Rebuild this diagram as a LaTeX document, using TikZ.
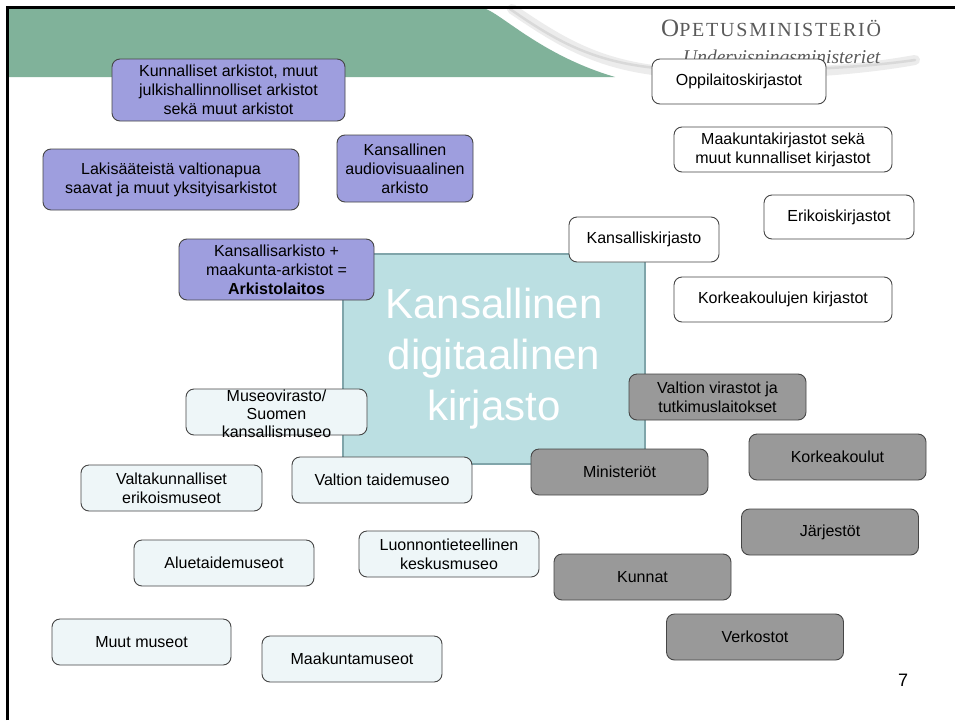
\documentclass[tikz,border=0pt]{standalone}
\usepackage{fontspec}
\setmainfont{Liberation Sans}
\newfontfamily\logofont[LetterSpace=9]{Liberation Serif}
\newfontfamily\logoital{Liberation Serif}
\definecolor{archc}{RGB}{158,158,222}
\definecolor{govc}{RGB}{153,153,153}
\definecolor{musc}{RGB}{238,246,248}
\definecolor{centc}{RGB}{187,223,226}
\definecolor{centborder}{RGB}{128,165,170}
\definecolor{headgreen}{RGB}{128,178,154}
\definecolor{logogray}{RGB}{90,90,90}
\definecolor{boxline}{RGB}{70,70,70}
\begin{document}
\begin{tikzpicture}[x=1pt,y=-1pt,
  box/.style={draw=boxline, line width=0.9pt, rounded corners=8pt, align=center,
    font=\fontsize{16}{19}\selectfont, inner sep=0pt},
  arch/.style={box, fill=archc},
  lib/.style={box, fill=white},
  gov/.style={box, fill=govc},
  mus/.style={box, fill=musc}]
\useasboundingbox (0,0) rectangle (955,720);
\fill[white] (0,0) rectangle (955,720);
% header swoosh
\draw[gray!15, line width=10pt, line cap=round] (512,9) .. controls (565,45) and (605,70) .. (690,73) .. controls (780,76) and (860,70) .. (915,60);
\draw[gray!30, line width=2.5pt, line cap=round] (510,9) .. controls (562,45) and (602,68) .. (690,70) .. controls (780,72) and (860,68) .. (915,60);
% green band
\fill[headgreen] (7,8) -- (483,8) .. controls (500,12) and (540,55) .. (615,77) -- (7,77) -- cycle;
% frame
\draw[line width=3pt] (7.5,720) -- (7.5,7.5) -- (955,7.5);
% logo
\node[anchor=base west, inner sep=0pt, text=logogray] (logo1) at (661,36)
  {\logofont\fontsize{25}{24}\selectfont O\fontsize{20}{20}\selectfont PETUSMINISTERIÖ};
\node[anchor=base west, inner sep=0pt, text=logogray] (logo2) at (683,63)
  {\logoital\itshape\fontsize{19.5}{20}\selectfont Undervisningsministeriet};
% central
\node[draw=centborder, line width=1.6pt, fill=centc, minimum width=302pt, minimum height=210pt,
  text=white, align=center, font=\fontsize{42}{51}\selectfont, inner sep=0pt] (kdk) at (494,359)
  {Kansallinen\\digitaalinen\\kirjasto};
% archives
\node[arch, minimum width=233pt, minimum height=62pt] (a1) at (228.5,90)
  {Kunnalliset arkistot, muut\\julkishallinnolliset arkistot\\sekä muut arkistot};
\node[arch, minimum width=256pt, minimum height=61pt] (a2) at (171,179.5)
  {Lakisääteistä valtionapua\\saavat ja muut yksityisarkistot};
\node[arch, minimum width=136pt, minimum height=67pt] (a3) at (405,168.5)
  {Kansallinen\\audiovisuaalinen\\arkisto};
\node[arch, minimum width=195pt, minimum height=61pt] (a4) at (276.5,269.5)
  {Kansallisarkisto +\\maakunta-arkistot =\\\textbf{Arkistolaitos}};
% libraries
\node[lib, minimum width=174pt, minimum height=45pt] (l1) at (739,81.5) {Oppilaitoskirjastot};
\node[lib, minimum width=218pt, minimum height=45pt] (l2) at (783,149.5)
  {Maakuntakirjastot sekä\\muut kunnalliset kirjastot};
\node[lib, minimum width=150pt, minimum height=44pt] (l3) at (839,217) {Erikoiskirjastot};
\node[lib, minimum width=150pt, minimum height=45pt] (l4) at (644,239.5) {Kansalliskirjasto};
\node[lib, minimum width=218pt, minimum height=45pt] (l5) at (783,299.5) {Korkeakoulujen kirjastot};
% government etc.
\node[gov, minimum width=177pt, minimum height=46pt] (g1) at (717.5,397)
  {Valtion virastot ja\\tutkimuslaitokset};
\node[gov, minimum width=177pt, minimum height=46pt] (g2) at (837.5,457) {Korkeakoulut};
\node[gov, minimum width=177pt, minimum height=46pt] (g3) at (619.5,472) {Ministeriöt};
\node[gov, minimum width=177pt, minimum height=46pt] (g4) at (830,532) {Järjestöt};
\node[gov, minimum width=177pt, minimum height=46pt] (g5) at (642.5,577) {Kunnat};
\node[gov, minimum width=177pt, minimum height=46pt] (g6) at (755,637) {Verkostot};
% museums
\node[mus, minimum width=181pt, minimum height=46pt] (m1) at (276.5,412) {};
\node[align=center, inner sep=0pt, font=\fontsize{16}{18}\selectfont] (m1t) at (276.5,414)
  {Museovirasto/\\Suomen\\kansallismuseo};
\node[mus, minimum width=181pt, minimum height=46pt] (m2) at (171.5,488)
  {Valtakunnalliset\\erikoismuseot};
\node[mus, minimum width=180pt, minimum height=46pt] (m3) at (382,480) {Valtion taidemuseo};
\node[mus, minimum width=180pt, minimum height=46pt] (m4) at (224,563) {Aluetaidemuseot};
\node[mus, minimum width=180pt, minimum height=46pt] (m5) at (449,554)
  {Luonnontieteellinen\\keskusmuseo};
\node[mus, minimum width=179pt, minimum height=46pt] (m6) at (141.5,642) {Muut museot};
\node[mus, minimum width=180pt, minimum height=46pt] (m7) at (352,659) {Maakuntamuseot};
% page number
\node[font=\fontsize{18}{20}\selectfont, inner sep=0pt] (pg) at (903,680) {7};
\end{tikzpicture}
\end{document}
